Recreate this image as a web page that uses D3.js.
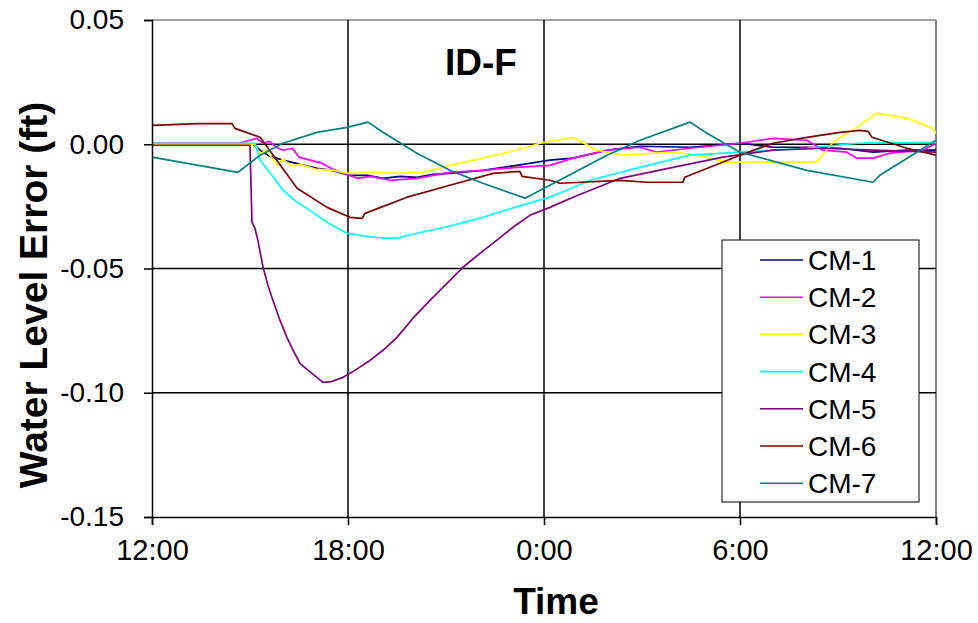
<!DOCTYPE html>
<html>
<head>
<meta charset="utf-8">
<script src="https://cdn.jsdelivr.net/npm/d3@7"></script>
<style>
  body { margin: 0; background: #fff; }
  svg { display: block; font-family: "Liberation Sans", Arial, sans-serif; }
</style>
</head>
<body>
<svg id="chart" width="978" height="623"></svg>
<script>
// ---- Data (hours since 12:00, water level error in ft) ----
const seriesNames = ["CM-1", "CM-2", "CM-3", "CM-4", "CM-5", "CM-6", "CM-7"];
const seriesColors = ["#000080", "#FF00FF", "#FFFF00", "#00FFFF", "#800080", "#800000", "#008080"];

const cm1Hours = [0, 3.1, 3.31, 3.6, 4.01, 4.5, 5.05, 5.5, 6.06, 6.6, 7.07, 7.6, 8.11, 8.6, 9.12, 10.13, 11.17, 12.18, 12.89, 13.93, 14.94, 16.47, 18.0, 19.01, 20.05, 21.06, 22.07, 23.11, 24];
const cm1Values = [0, 0, -0.0024, -0.0048, -0.0064, -0.0080, -0.0097, -0.0105, -0.0125, -0.0125, -0.0137, -0.0129, -0.0133, -0.0121, -0.0117, -0.0105, -0.0085, -0.0064, -0.0056, -0.0024, -0.0008, -0.0012, 0.0004, -0.0012, -0.0012, -0.0016, -0.0032, -0.0024, -0.0024];

const cm2Hours = [0, 2.69, 3.0, 3.21, 3.4, 3.6, 3.8, 4.01, 4.3, 4.5, 4.84, 5.2, 5.54, 5.9, 6.27, 6.7, 7.29, 8.11, 9.12, 10.13, 11.17, 12.18, 12.89, 13.93, 14.94, 15.46, 16.47, 18.0, 19.01, 20.05, 20.54, 21.27, 21.58, 22.07, 22.59, 23.6, 24];
const cm2Values = [0.0005, 0.0005, 0.0016, 0.0024, 0.0004, 0.0012, -0.0012, -0.0024, -0.0016, -0.0052, -0.0064, -0.0076, -0.0101, -0.0117, -0.0137, -0.0129, -0.0145, -0.0137, -0.0113, -0.0105, -0.0093, -0.0085, -0.0056, -0.0024, -0.0012, -0.0032, -0.0016, 0.0004, 0.0024, 0.0016, -0.0024, -0.0032, -0.0056, -0.0056, -0.0036, -0.0024, 0.0004];

const cm3Hours = [0, 3.15, 3.3, 3.5, 3.83, 4.0, 4.3, 4.53, 5.0, 5.54, 6.0, 6.58, 7.59, 8.29, 9.12, 10.13, 11.17, 11.88, 12.89, 13.62, 14.42, 15.95, 16.68, 17.6, 19.01, 20.35, 20.85, 21.58, 22.19, 23.11, 23.91, 24];
const cm3Values = [0, 0, -0.0040, -0.0024, -0.0085, -0.0060, -0.0089, -0.0081, -0.0100, -0.0105, -0.0117, -0.0113, -0.0117, -0.0113, -0.0085, -0.0056, -0.0024, 0.0004, 0.0028, -0.0024, -0.0044, -0.0032, -0.0044, -0.0072, -0.0072, -0.0072, 0.0008, 0.0068, 0.0125, 0.0105, 0.0064, 0.0044];

const cm4Hours = [0, 3.15, 3.31, 3.7, 4.01, 4.4, 4.84, 5.4, 5.97, 6.5, 7.07, 7.5, 8.11, 9.1, 10.13, 11.1, 12.18, 13.41, 14.94, 16.47, 18.0, 20.05, 21.6, 24];
const cm4Values = [0.0004, 0.0004, -0.0064, -0.0130, -0.0185, -0.0230, -0.0266, -0.0318, -0.0358, -0.0370, -0.0378, -0.0378, -0.0358, -0.0330, -0.0294, -0.0254, -0.0213, -0.0145, -0.0093, -0.0044, -0.0032, -0.0016, 0.0004, 0.0008];

const cm5Hours = [0, 2.97, 3.0, 3.06, 3.15, 3.24, 3.40, 3.55, 3.70, 3.92, 4.13, 4.32, 4.53, 4.78, 5.05, 5.23, 5.5, 5.85, 6.21, 6.67, 7.07, 7.5, 7.99, 8.51, 9.03, 9.52, 10.04, 10.56, 11.05, 11.57, 12.18, 12.89, 14.33, 15.95, 17.48, 19.01, 20.54, 22.07, 24];
const cm5Values = [-0.0004, -0.0004, -0.0004, -0.0314, -0.0338, -0.0386, -0.0495, -0.0568, -0.0628, -0.0709, -0.0777, -0.0829, -0.0882, -0.0910, -0.0938, -0.0958, -0.0955, -0.0938, -0.0910, -0.0870, -0.0829, -0.0777, -0.0700, -0.0628, -0.0560, -0.0495, -0.0439, -0.0386, -0.0334, -0.0286, -0.0254, -0.0213, -0.0137, -0.0093, -0.0052, -0.0024, -0.0016, -0.0024, -0.0032];

const cm6Hours = [0, 1.41, 2.45, 2.54, 3.31, 4.44, 5.36, 6.06, 6.43, 6.52, 7.81, 9.12, 10.44, 11.26, 11.33, 12.18, 12.49, 14.33, 15.15, 16.25, 16.31, 18.0, 19.01, 20.05, 21.06, 21.67, 21.92, 22.04, 23.11, 24];
const cm6Values = [0.0076, 0.0083, 0.0083, 0.0064, 0.0028, -0.0177, -0.0254, -0.0294, -0.0298, -0.0278, -0.0213, -0.0165, -0.0117, -0.0109, -0.0129, -0.0145, -0.0157, -0.0145, -0.0153, -0.0153, -0.0133, -0.0044, 0.0004, 0.0028, 0.0048, 0.0056, 0.0052, 0.0028, -0.0016, -0.0044];

const cm7Hours = [0, 2.63, 3.31, 4.01, 5.05, 5.97, 6.61, 7.07, 8.11, 9.12, 10.13, 11.42, 12.18, 13.93, 14.94, 16.47, 16.99, 18.0, 20.05, 22.07, 22.28, 24];
const cm7Values = [-0.0052, -0.0113, -0.0044, 0.0004, 0.0048, 0.0068, 0.0089, 0.0048, -0.0036, -0.0105, -0.0157, -0.0217, -0.0165, -0.0044, 0.0016, 0.0089, 0.0044, -0.0032, -0.0105, -0.0153, -0.0125, 0.0016];

const xTickHours = [0, 6, 12, 18, 24];
const xTickLabels = ["12:00", "18:00", "0:00", "6:00", "12:00"];
const yTickValues = [0.05, 0.00, -0.05, -0.10, -0.15];

const hoursList = [cm1Hours, cm2Hours, cm3Hours, cm4Hours, cm5Hours, cm6Hours, cm7Hours];
const valuesList = [cm1Values, cm2Values, cm3Values, cm4Values, cm5Values, cm6Values, cm7Values];

// ---- Layout ----
const L = 152, R = 936, T = 20, B = 517;
const svg = d3.select("#chart");
const x = d3.scaleLinear().domain([0, 24]).range([L, R]);
const y = d3.scaleLinear().domain([-0.15, 0.05]).range([B, T]);

// plot border (top/right gray)
svg.append("line").attr("x1", L).attr("x2", R).attr("y1", T).attr("y2", T)
  .attr("stroke", "#808080").attr("stroke-width", 1.5);
svg.append("line").attr("x1", R).attr("x2", R).attr("y1", T).attr("y2", B)
  .attr("stroke", "#808080").attr("stroke-width", 2);

// gridlines
const grid = svg.append("g");
grid.selectAll("line.h").data(yTickValues.filter(v => v < 0.05 && v > -0.15)).join("line")
  .attr("x1", L).attr("x2", R).attr("y1", d => y(d)).attr("y2", d => y(d))
  .attr("stroke", "#000").attr("stroke-width", 1.5);
grid.selectAll("line.v").data(xTickHours.filter(h => h > 0 && h < 24)).join("line")
  .attr("x1", d => x(d)).attr("x2", d => x(d)).attr("y1", T).attr("y2", B)
  .attr("stroke", "#000").attr("stroke-width", 1.5);

// series lines
const line = d3.line().x(d => x(d[0])).y(d => y(d[1]));
seriesNames.forEach((name, i) => {
  const pts = hoursList[i].map((h, j) => [h, valuesList[i][j]]);
  svg.append("path").datum(pts).attr("d", line)
    .attr("fill", "none").attr("stroke", seriesColors[i]).attr("stroke-width", 1.7)
    .attr("stroke-linejoin", "round");
});

// axes
const yAxis = d3.axisLeft(y).tickValues(yTickValues).tickFormat(d3.format(".2f")).tickSize(8).tickPadding(20);
const gy = svg.append("g").attr("transform", `translate(${L},0)`).call(yAxis);
gy.select(".domain").attr("stroke", "#000").attr("stroke-width", 1.5);
gy.selectAll(".tick line").attr("stroke", "#000").attr("stroke-width", 1.5);
gy.selectAll(".tick text").attr("font-size", 28).attr("fill", "#000")
  .style("font-family", '"Liberation Sans", Arial, sans-serif')
  .text(d => d3.format(".2f")(d).replace("−", "-"));

const xAxis = d3.axisBottom(x).tickValues(xTickHours).tickFormat((d, i) => xTickLabels[i]).tickSize(8).tickPadding(14);
const gx = svg.append("g").attr("transform", `translate(0,${B})`).call(xAxis);
gx.select(".domain").attr("stroke", "#000").attr("stroke-width", 1.5);
gx.selectAll(".tick line").attr("stroke", "#000").attr("stroke-width", 1.5);
gx.selectAll(".tick text").attr("font-size", 29).attr("fill", "#000")
  .style("font-family", '"Liberation Sans", Arial, sans-serif');

// titles
svg.append("text").attr("x", 481).attr("y", 75).attr("text-anchor", "middle")
  .attr("font-size", 37).attr("font-weight", "bold").text("ID-F");
svg.append("text").attr("x", 556).attr("y", 614).attr("text-anchor", "middle")
  .attr("font-size", 37).attr("font-weight", "bold").text("Time");
svg.append("text").attr("transform", "translate(47,295) rotate(-90)").attr("text-anchor", "middle")
  .attr("font-size", 39).attr("font-weight", "bold").text("Water Level Error (ft)");

// legend
const lg = svg.append("g");
lg.append("rect").attr("x", 722).attr("y", 240).attr("width", 197).attr("height", 262)
  .attr("fill", "#fff").attr("stroke", "#000").attr("stroke-width", 1);
seriesNames.forEach((name, i) => {
  const cy = 260 + i * 37.2;
  lg.append("line").attr("x1", 760).attr("x2", 803).attr("y1", cy).attr("y2", cy)
    .attr("stroke", seriesColors[i]).attr("stroke-width", 1.6);
  lg.append("text").attr("x", 808).attr("y", cy + 10).attr("font-size", 28).text(name);
});
</script>
</body>
</html>
